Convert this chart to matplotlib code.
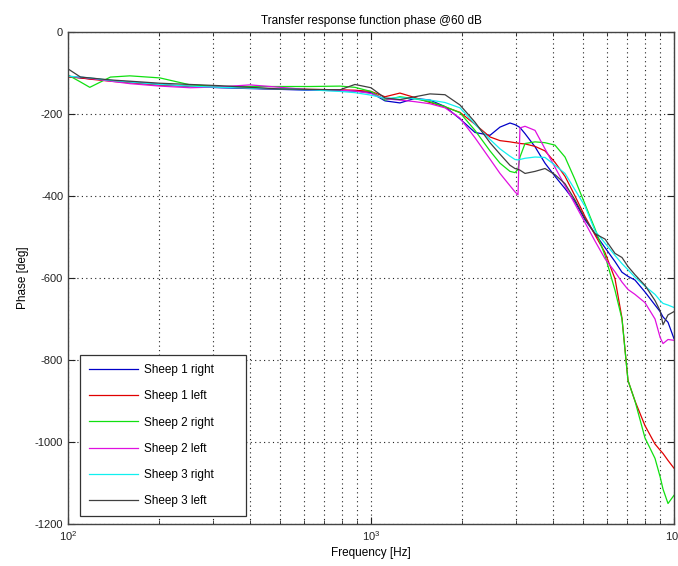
import numpy as np
import matplotlib
matplotlib.use('Agg')
import matplotlib.pyplot as plt
from matplotlib.ticker import LogLocator, NullFormatter

plt.rcParams['font.family'] = ['Liberation Sans', 'DejaVu Sans']
plt.rcParams['axes.unicode_minus'] = False
plt.rcParams['mathtext.default'] = 'regular'

# frequency points (Hz)
freq_hz = [100, 110, 118, 138, 160, 201, 253, 317, 399, 501, 629, 790, 885, 1000,
           1112, 1246, 1397, 1565, 1755, 1966, 2204, 2470, 2665, 2875, 2987, 3056,
           3102, 3224, 3478, 3752, 4048, 4368, 4713, 5085, 5487, 5919, 6387, 6735,
           7050, 7434, 8020, 8656, 9000, 9200, 9555, 10000]

# phase in degrees, one list per animal/ear
sheep1_right = [-108, -112, -114, -118, -122, -128, -133, -136, -138, -140,
                -142, -143, -144, -148, -168, -173, -162, -166, -182, -212,
                -245, -252, -232, -222, -226, -230, -233, -248, -280, -320,
                -352, -382, -414, -458, -492, -526, -560, -586, -596, -605,
                -634, -666, -682, -695, -708, -748]
sheep1_left = [-110, -112, -115, -120, -124, -130, -132, -134, -137, -139,
               -140, -141, -142, -145, -158, -149, -160, -172, -183, -196,
               -225, -256, -265, -268, -270, -271, -272, -273, -279, -290,
               -318, -352, -400, -450, -495, -538, -602, -698, -850, -900,
               -960, -1005, -1020, -1028, -1045, -1064]
sheep2_right = [-105, -122, -135, -110, -107, -112, -129, -133, -133, -133,
                -133, -132, -135, -145, -166, -158, -163, -170, -182, -197,
                -240, -290, -320, -340, -343, -335, -305, -272, -268, -270,
                -276, -305, -360, -420, -480, -545, -630, -700, -850, -900,
                -990, -1040, -1085, -1115, -1150, -1130]
sheep2_left = [-108, -110, -113, -120, -126, -132, -136, -134, -129, -135,
               -141, -142, -144, -150, -163, -166, -170, -175, -185, -210,
               -258, -310, -345, -375, -390, -397, -234, -230, -240, -285,
               -330, -375, -420, -465, -510, -553, -585, -610, -628, -640,
               -660, -700, -745, -760, -750, -752]
sheep3_right = [-108, -110, -112, -118, -122, -128, -132, -135, -137, -139,
                -141, -145, -148, -154, -162, -160, -163, -166, -172, -185,
                -225, -262, -285, -303, -311, -312, -311, -308, -305, -306,
                -325, -345, -385, -425, -485, -515, -545, -565, -580, -598,
                -620, -640, -655, -662, -666, -672]
sheep3_left = [-90, -110, -112, -117, -120, -125, -128, -131, -135, -139,
               -140, -141, -128, -136, -161, -165, -158, -151, -153, -178,
               -220, -270, -298, -325, -333, -335, -337, -345, -340, -333,
               -348, -370, -410, -455, -492, -505, -540, -550, -572, -592,
               -618, -655, -680, -714, -690, -682]

labels = ['Sheep 1 right', 'Sheep 1 left', 'Sheep 2 right',
          'Sheep 2 left', 'Sheep 3 right', 'Sheep 3 left']
series = [sheep1_right, sheep1_left, sheep2_right, sheep2_left, sheep3_right, sheep3_left]
colors = ['#0000c8', '#e00000', '#10e010', '#e010e0', '#10f0f0', '#404040']

fig = plt.figure(figsize=(6.78, 5.66), dpi=100)
ax = fig.add_axes([0.1003, 0.0742, 0.8938, 0.8693])

for y, lab, c in zip(series, labels, colors):
    ax.plot(freq_hz, y, '-', color=c, linewidth=0.9, label=lab)

ax.set_xscale('log')
ax.set_xlim(100, 10000)
ax.set_ylim(-1200, 0)
ax.set_yticks(np.arange(-1200, 1, 200))
ax.xaxis.set_minor_locator(LogLocator(base=10, subs=np.arange(2, 10)))
ax.xaxis.set_minor_formatter(NullFormatter())

ax.grid(which='both', axis='x', color='#222222', linestyle=(0, (1, 3)), linewidth=0.8)
ax.grid(which='major', axis='y', color='#222222', linestyle=(0, (1, 3)), linewidth=0.8)

ax.tick_params(which='both', direction='in', top=True, right=True, labelsize=8, colors='#222222')
ax.tick_params(which='major', length=5)
ax.tick_params(which='minor', length=3)
for s in ax.spines.values():
    s.set_color('#444444')
    s.set_linewidth(1.0)

ax.set_title('Transfer response function phase @60 dB', fontsize=8.5, pad=6)
ax.set_xlabel('Frequency [Hz]', fontsize=8.5, labelpad=3)
ax.set_ylabel('Phase [deg]', fontsize=8.5, labelpad=4)

# legend box sized like the original (lower left corner)
leg = ax.legend(loc='lower left', bbox_to_anchor=(0.0198, 0.0163, 0.274, 0.327),
                mode='expand', borderaxespad=0,
                fontsize=8.5, handlelength=4.15, handletextpad=0.5, labelspacing=1.2,
                borderpad=0.75, fancybox=False, framealpha=1, edgecolor='#333333')
leg.get_frame().set_linewidth(0.9)

fig.savefig('out.png', dpi=100)
